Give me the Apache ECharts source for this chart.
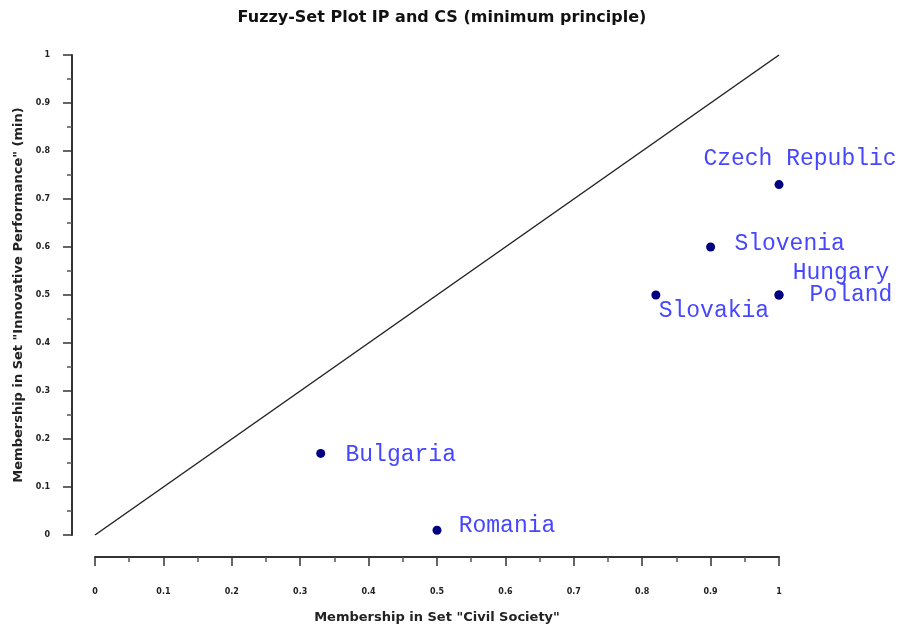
<!DOCTYPE html>
<html>
<head>
<meta charset="utf-8">
<script src="https://cdn.jsdelivr.net/npm/echarts@6/dist/echarts.min.js"></script>
<style>
  html, body { margin: 0; padding: 0; background: #fff; }
  #main { width: 901px; height: 629px; }
</style>
</head>
<body>
<div id="main"></div>
<script>
// countries and their memberships
var countries = ['Czech Republic', 'Slovenia', 'Hungary', 'Poland', 'Slovakia', 'Bulgaria', 'Romania'];
var civilSociety = [1.0, 0.9, 1.0, 1.0, 0.82, 0.33, 0.5];
var innovPerf = [0.73, 0.6, 0.5, 0.5, 0.5, 0.17, 0.01];
var diagonal = [[0, 0], [1, 1]];

// label placement (offset from point centre)
var labelOffset = {
  'Czech Republic': [21, -26],
  'Slovenia': [79, -3],
  'Hungary': [62, -22],
  'Poland': [72, 0],
  'Slovakia': [58, 16],
  'Bulgaria': [80, 2],
  'Romania': [70, -4]
};

var points = [];
for (var i = 0; i < countries.length; i++) {
  points.push({
    name: countries[i],
    value: [civilSociety[i], innovPerf[i]],
    label: { offset: labelOffset[countries[i]] }
  });
}

var myChart = echarts.init(document.getElementById('main'));

var axisCommon = {
  type: 'value',
  min: 0,
  max: 1,
  interval: 0.1,
  splitLine: { show: false },
  axisLine: { show: true, onZero: false, lineStyle: { color: '#333', width: 2 } },
  axisTick: { show: true, length: 9, lineStyle: { color: '#333', width: 1.5 } },
  minorTick: { show: true, splitNumber: 2, length: 5, lineStyle: { color: '#555', width: 1.5 } },
  nameLocation: 'middle',
  nameTextStyle: { fontFamily: 'DejaVu Sans', fontWeight: 'bold', fontSize: 13, color: '#222' }
};

function tickFmt(v) { return v === 0 ? '0' : (v === 1 ? '1' : v.toFixed(1)); }

var option = {
  animation: false,
  backgroundColor: '#fff',
  title: {
    text: 'Fuzzy-Set Plot IP and CS (minimum principle)',
    left: 437,
    top: 5,
    textAlign: 'center',
    textStyle: { fontFamily: 'DejaVu Sans', fontWeight: 'bold', fontSize: 16, color: '#111' }
  },
  grid: { left: 95, right: 122, top: 55, bottom: 94 },
  xAxis: Object.assign({}, axisCommon, {
    name: 'Membership in Set "Civil Society"',
    nameGap: 54,
    offset: 22,
    axisLabel: {
      margin: 31,
      fontFamily: 'DejaVu Sans', fontWeight: 'bold', fontSize: 8, color: '#222',
      formatter: tickFmt
    }
  }),
  yAxis: Object.assign({}, axisCommon, {
    name: 'Membership in Set "Innovative Performance" (min)',
    nameGap: 46,
    offset: 23,
    axisLabel: {
      margin: 22,
      fontFamily: 'DejaVu Sans', fontWeight: 'bold', fontSize: 8, color: '#222',
      formatter: tickFmt
    }
  }),
  series: [
    {
      type: 'line',
      data: diagonal,
      symbol: 'none',
      lineStyle: { color: '#222', width: 1.5 },
      silent: true
    },
    {
      type: 'scatter',
      data: points,
      symbolSize: 9,
      itemStyle: { color: '#000080', opacity: 1 },
      label: {
        show: true,
        position: 'inside',
        formatter: '{b}',
        fontFamily: 'Liberation Mono',
        fontSize: 23,
        color: '#4646ff'
      }
    }
  ]
};

myChart.setOption(option);
</script>
</body>
</html>
